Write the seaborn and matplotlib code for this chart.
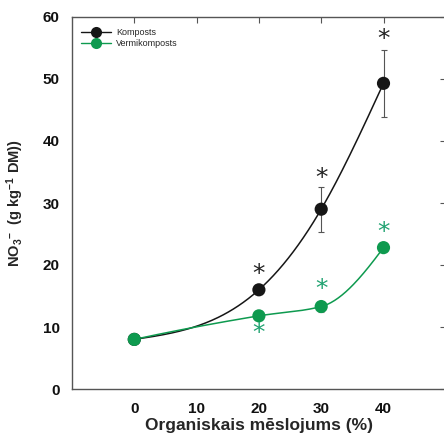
import numpy as np
import pandas as pd
import matplotlib
matplotlib.use("Agg")
import matplotlib.pyplot as plt
import seaborn as sns
from matplotlib.lines import Line2D

# ---- data ----
doses = [0, 20, 30, 40]
komposts = [8.0, 16.0, 29.0, 49.3]
komposts_err = [0.3, 0.6, 3.6, 5.4]
vermi = [8.0, 11.8, 13.3, 22.8]
vermi_err = [0.3, 0.4, 0.8, 0.5]
# significance asterisks (x, y)
kom_star_x = [20, 30, 40]
kom_star_y = [18.6, 34.0, 56.4]
ver_star_x = [20, 30, 40]
ver_star_y = [9.0, 16.1, 25.3]
x_ticks = [0, 10, 20, 30, 40]
y_ticks = [0, 10, 20, 30, 40, 50, 60]

BLACK = "#161616"
GREEN = "#0e9a4f"
STAR_GREEN = "#1fa270"


def natural_spline(x, y, xs):
    x = np.asarray(x, float); y = np.asarray(y, float)
    n = len(x); h = np.diff(x); d = np.diff(y) / h
    A = np.zeros((n, n)); b = np.zeros(n)
    A[0, 0] = 1; A[-1, -1] = 1
    for i in range(1, n - 1):
        A[i, i - 1] = h[i - 1]; A[i, i] = 2 * (h[i - 1] + h[i]); A[i, i + 1] = h[i]
        b[i] = 6 * (d[i] - d[i - 1])
    M = np.linalg.solve(A, b)
    out = np.empty(len(xs))
    for j, xv in enumerate(xs):
        k = int(np.clip(np.searchsorted(x, xv, side="right") - 1, 0, n - 2))
        a = x[k + 1] - xv; c = xv - x[k]; hk = h[k]
        out[j] = (M[k] * a**3 / (6 * hk) + M[k + 1] * c**3 / (6 * hk)
                  + (y[k] / hk - M[k] * hk / 6) * a + (y[k + 1] / hk - M[k + 1] * hk / 6) * c)
    return out


def pchip(x, y, xs):
    x = np.asarray(x, float); y = np.asarray(y, float)
    n = len(x); h = np.diff(x); d = np.diff(y) / h
    m = np.zeros(n)
    for k in range(1, n - 1):
        if d[k - 1] * d[k] > 0:
            w1 = 2 * h[k] + h[k - 1]; w2 = h[k] + 2 * h[k - 1]
            m[k] = (w1 + w2) / (w1 / d[k - 1] + w2 / d[k])
    def end(h0, h1, d0, d1):
        v = ((2 * h0 + h1) * d0 - h0 * d1) / (h0 + h1)
        if np.sign(v) != np.sign(d0):
            v = 0.0
        elif np.sign(d0) != np.sign(d1) and abs(v) > abs(3 * d0):
            v = 3 * d0
        return v
    m[0] = end(h[0], h[1], d[0], d[1])
    m[-1] = end(h[-1], h[-2], d[-1], d[-2])
    out = np.empty(len(xs))
    for i, xv in enumerate(xs):
        k = int(np.clip(np.searchsorted(x, xv, side="right") - 1, 0, n - 2))
        t = (xv - x[k]) / h[k]
        h00 = 2 * t**3 - 3 * t**2 + 1; h10 = t**3 - 2 * t**2 + t
        h01 = -2 * t**3 + 3 * t**2; h11 = t**3 - t**2
        out[i] = h00 * y[k] + h10 * h[k] * m[k] + h01 * y[k + 1] + h11 * h[k] * m[k + 1]
    return out


sns.set_theme(style="white")
plt.rcParams["font.family"] = ["Liberation Sans", "DejaVu Sans"]
plt.rcParams["mathtext.fontset"] = "custom"
plt.rcParams["mathtext.rm"] = "Liberation Sans:bold"
plt.rcParams["mathtext.it"] = "Liberation Sans:bold"
plt.rcParams["mathtext.bf"] = "Liberation Sans:bold"

fig = plt.figure(figsize=(4.44, 4.36), dpi=100)
ax = fig.add_axes([72 / 444, 1 - 389 / 436, 373.8 / 444, 372 / 436])

xs = np.linspace(0, 40, 200)
curves = pd.DataFrame({
    "x": np.concatenate([xs, xs]),
    "y": np.concatenate([natural_spline(doses, komposts, xs), pchip(doses, vermi, xs)]),
    "s": ["Komposts"] * len(xs) + ["Vermikomposts"] * len(xs),
})
sns.lineplot(data=curves, x="x", y="y", hue="s", palette=[BLACK, GREEN],
             linewidth=1.1, legend=False, ax=ax, zorder=2)

ax.errorbar(doses, komposts, yerr=komposts_err, fmt="none", ecolor="#555555",
            elinewidth=0.8, capsize=2.5, capthick=0.8, zorder=1)
ax.errorbar(doses, vermi, yerr=vermi_err, fmt="none", ecolor="#888888",
            elinewidth=0.8, capsize=2.5, capthick=0.8, zorder=1)

pts = pd.DataFrame({
    "x": doses + doses,
    "y": komposts + vermi,
    "s": ["Komposts"] * 4 + ["Vermikomposts"] * 4,
})
sns.scatterplot(data=pts, x="x", y="y", hue="s", palette=[BLACK, GREEN],
                s=90, edgecolor="none", legend=False, ax=ax, zorder=3)

for xv, yv in zip(kom_star_x, kom_star_y):
    ax.text(xv, yv, "*", ha="center", va="center", fontsize=18,
            color="#222222", family="DejaVu Sans")
for xv, yv in zip(ver_star_x, ver_star_y):
    ax.text(xv, yv, "*", ha="center", va="center", fontsize=18,
            color=STAR_GREEN, family="DejaVu Sans")

# legend
handles = [Line2D([], [], color=BLACK, lw=1.0, marker="o", ms=8, mec="none"),
           Line2D([], [], color=GREEN, lw=1.0, marker="o", ms=8, mec="none")]
ax.legend(handles, ["Komposts", "Vermikomposts"], loc="upper left",
          bbox_to_anchor=(0.0, 0.995), frameon=False, fontsize=6.5,
          handlelength=3.3, handletextpad=0.6, labelspacing=0.2,
          borderaxespad=0.6)

ax.set_xlim(-10, 50)
ax.set_ylim(0, 60)
ax.set_xticks(x_ticks)
ax.set_yticks(y_ticks)
ax.set_xticklabels([str(t) for t in x_ticks], fontsize=11, fontweight="bold")
ax.set_yticklabels([str(t) for t in y_ticks], fontsize=11, fontweight="bold")
ax.tick_params(direction="in", length=4, width=0.8, top=True, right=True,
               colors="#555555", labelcolor="#111111", pad=9)
ax.set_xlabel("Organiskais mēslojums (%)", fontsize=12.5, fontweight="bold",
              labelpad=2)
ax.set_ylabel(r"NO$_3$$^{-}$  (g kg$^{-1}$ DM))", fontsize=10.5,
              fontweight="bold", labelpad=12)
for sp in ax.spines.values():
    sp.set_color("#555555")
    sp.set_linewidth(1.0)

fig.savefig("out.png", dpi=100)
